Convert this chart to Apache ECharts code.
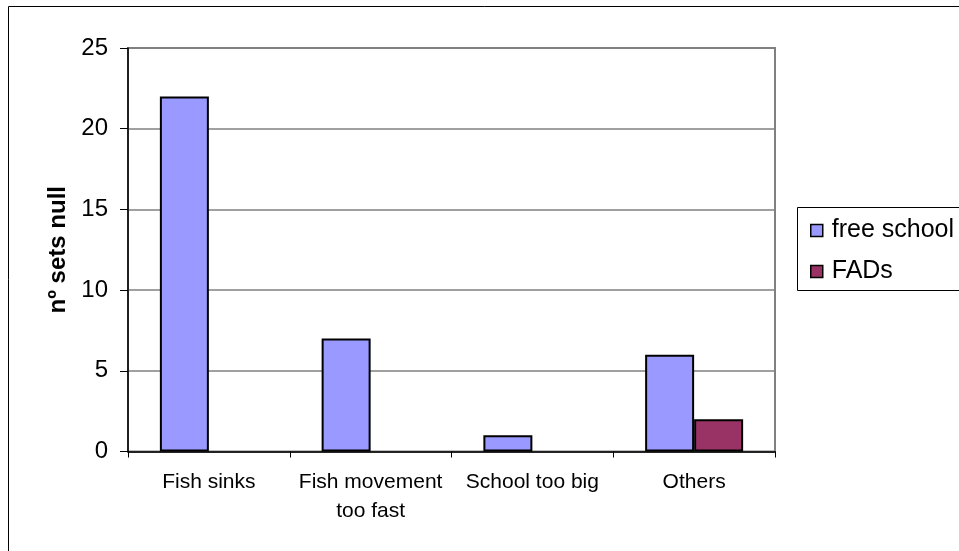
<!DOCTYPE html>
<html>
<head>
<meta charset="utf-8">
<script src="https://cdn.jsdelivr.net/npm/echarts@6/dist/echarts.min.js"></script>
<style>
  html, body { margin: 0; padding: 0; background: #fff; }
  #chart { width: 959px; height: 551px; }
</style>
</head>
<body>
<div id="chart"></div>
<script>
// Reasons for null sets, by school type
const categories = ['Fish sinks', 'Fish movement\ntoo fast', 'School too big', 'Others'];
const freeSchool = [22, 7, 1, 6];
const fads = [0, 0, 0, 2];
const yTicks = { min: 0, max: 25, interval: 5 };

const chart = echarts.init(document.getElementById('chart'), null, { renderer: 'canvas' });
const FONT = '"Liberation Sans", Arial, sans-serif';

// zero-valued bars get no outline so they leave no mark on the axis
const asBars = (vals) => vals.map(v => (v === 0 ? { value: v, itemStyle: { borderWidth: 0 } } : v));

chart.setOption({
  animation: false,
  backgroundColor: '#ffffff',
  graphic: [
    { type: 'rect', shape: { x: 8.5, y: 6.5, width: 960, height: 560 },
      style: { fill: 'none', stroke: '#000', lineWidth: 1 }, z: 0 },
    { type: 'rect', shape: { x: 797.5, y: 207.5, width: 180, height: 83 },
      style: { fill: '#fff', stroke: '#000', lineWidth: 1 }, z: 1 }
  ],
  grid: { left: 128, top: 48, right: 184, bottom: 99.5, show: true,
          borderColor: '#808080', borderWidth: 2, backgroundColor: '#fff' },
  legend: {
    orient: 'vertical', left: 805, top: 213, itemWidth: 12, itemHeight: 12, itemGap: 16,
    icon: 'rect', z: 5,
    textStyle: { fontFamily: FONT, fontSize: 25, color: '#000', padding: [0, 0, 0, 4] },
    itemStyle: { borderColor: '#000', borderWidth: 1.5 },
    data: ['free school', 'FADs']
  },
  xAxis: {
    type: 'category', data: categories,
    axisLine: { lineStyle: { color: '#000', width: 1.5 } },
    axisTick: { show: true, length: 6, interval: 0, lineStyle: { color: '#000' } },
    axisLabel: { interval: 0, margin: 16, fontFamily: FONT, fontSize: 21, color: '#000', lineHeight: 29 }
  },
  yAxis: {
    type: 'value', min: yTicks.min, max: yTicks.max, interval: yTicks.interval,
    name: 'nº sets null', nameLocation: 'middle', nameGap: 56,
    nameTextStyle: { fontFamily: FONT, fontSize: 24, fontWeight: 'bold', color: '#000' },
    axisLine: { show: true, lineStyle: { color: '#000', width: 1.5 } },
    axisTick: { show: true, length: 8, lineStyle: { color: '#000' } },
    axisLabel: { margin: 20, fontFamily: FONT, fontSize: 24, color: '#000' },
    splitLine: { lineStyle: { color: '#808080', width: 1.5 } }
  },
  series: [
    { name: 'free school', type: 'bar', data: asBars(freeSchool), barWidth: 49, barGap: '0%',
      itemStyle: { color: '#9999FF', borderColor: '#000', borderWidth: 2 } },
    { name: 'FADs', type: 'bar', data: asBars(fads), barWidth: 49,
      itemStyle: { color: '#993366', borderColor: '#000', borderWidth: 2 } }
  ]
});
</script>
</body>
</html>
